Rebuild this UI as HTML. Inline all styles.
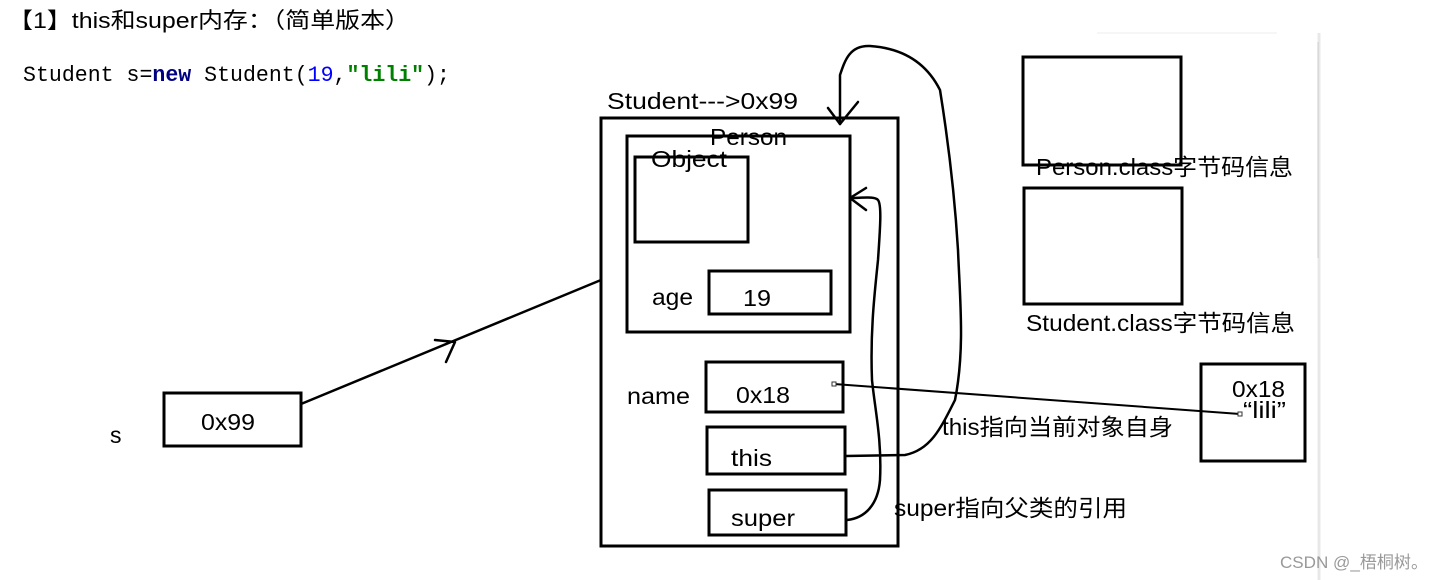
<!DOCTYPE html>
<html><head><meta charset="utf-8"><style>
body{margin:0;background:#fff}
svg{display:block}
text{font-family:"Liberation Sans","Noto Sans CJK SC",sans-serif;fill:#000}
.m{font-family:"Liberation Mono","Noto Sans CJK SC",monospace}
</style></head><body>
<svg width="1440" height="580" viewBox="0 0 1440 580">
<line x1="1097" y1="33" x2="1277" y2="33" stroke="#eee" stroke-width="1"/>
<line x1="1319" y1="33" x2="1319" y2="580" stroke="#e8e8e8" stroke-width="3"/>
<line x1="1318" y1="42" x2="1318" y2="258" stroke="#ccc" stroke-width="1"/>
<text x="8" y="28" font-size="22" textLength="402" lengthAdjust="spacingAndGlyphs">【1】this和super内存：（简单版本）</text>
<text x="23" y="81" font-size="22" class="m" textLength="427" lengthAdjust="spacingAndGlyphs">Student s=<tspan font-weight="bold" fill="#000080">new</tspan> Student(<tspan fill="#0000ff">19</tspan>,<tspan font-weight="bold" fill="#008000">"lili"</tspan>);</text>
<g fill="none" stroke="#000" stroke-width="3">
<rect x="601" y="118" width="297" height="428"/>
<rect x="627" y="136" width="223" height="196"/>
<rect x="635" y="157" width="113" height="85"/>
<rect x="709" y="271" width="122" height="43"/>
<rect x="706" y="362" width="137" height="50"/>
<rect x="707" y="427" width="138" height="47"/>
<rect x="709" y="490" width="137" height="45"/>
<rect x="1023" y="57" width="158" height="108"/>
<rect x="1024" y="188" width="158" height="116"/>
<rect x="1201" y="364" width="104" height="97"/>
<rect x="164" y="393" width="137" height="53"/>
</g>
<g fill="none" stroke="#000" stroke-width="2.5" stroke-linecap="round" stroke-linejoin="round">
<line x1="301" y1="404" x2="601" y2="280"/>
<path d="M435 340 L455 342 L446 362"/>
<path d="M846 456 L905 455 C930 450 940 430 955 400 C965 350 960 300 958 250 C955 200 948 140 940 90 C925 60 900 48 870 46 C850 45 845 60 840 75 L840 124"/>
<path d="M828 108 L840 124 L858 102"/>
<path d="M847 520 C865 518 878 505 880 480 C882 440 875 410 872 380 C870 330 875 290 878 260 C880 230 882 205 878 200 C875 196 862 198 850 198"/>
<path d="M866 188 L850 198 L866 210"/>
</g>
<line x1="834" y1="384" x2="1240" y2="414" stroke="#000" stroke-width="2"/>
<rect x="832" y="382" width="4" height="4" fill="#fff" stroke="#333" stroke-width="1"/>
<rect x="1238" y="412" width="4" height="4" fill="#fff" stroke="#333" stroke-width="1"/>
<g font-size="23" lengthAdjust="spacingAndGlyphs">
<text x="607" y="109" textLength="191" lengthAdjust="spacingAndGlyphs">Student---&gt;0x99</text>
<text x="710" y="145" textLength="77" lengthAdjust="spacingAndGlyphs">Person</text>
<text x="651" y="167" textLength="76" lengthAdjust="spacingAndGlyphs">Object</text>
<text x="652" y="305" textLength="41" lengthAdjust="spacingAndGlyphs">age</text>
<text x="743" y="306" textLength="28" lengthAdjust="spacingAndGlyphs">19</text>
<text x="627" y="404" textLength="63" lengthAdjust="spacingAndGlyphs">name</text>
<text x="736" y="403" textLength="54" lengthAdjust="spacingAndGlyphs">0x18</text>
<text x="731" y="466" textLength="41" lengthAdjust="spacingAndGlyphs">this</text>
<text x="731" y="526" textLength="64" lengthAdjust="spacingAndGlyphs">super</text>
<text x="201" y="430" textLength="54" lengthAdjust="spacingAndGlyphs">0x99</text>
<text x="110" y="443">s</text>
<text x="1036" y="175" textLength="257" lengthAdjust="spacingAndGlyphs">Person.class字节码信息</text>
<text x="1026" y="331" textLength="269" lengthAdjust="spacingAndGlyphs">Student.class字节码信息</text>
<text x="1232" y="397" textLength="53" lengthAdjust="spacingAndGlyphs">0x18</text>
<text x="1243" y="418" textLength="43" lengthAdjust="spacingAndGlyphs">“lili”</text>
<text x="942" y="435" textLength="231" lengthAdjust="spacingAndGlyphs">this指向当前对象自身</text>
<text x="894" y="516" textLength="233" lengthAdjust="spacingAndGlyphs">super指向父类的引用</text>
</g>
<text x="1280" y="568" font-size="17" style="fill:#999" textLength="148" lengthAdjust="spacingAndGlyphs">CSDN @_梧桐树。</text>
</svg>
</body></html>
